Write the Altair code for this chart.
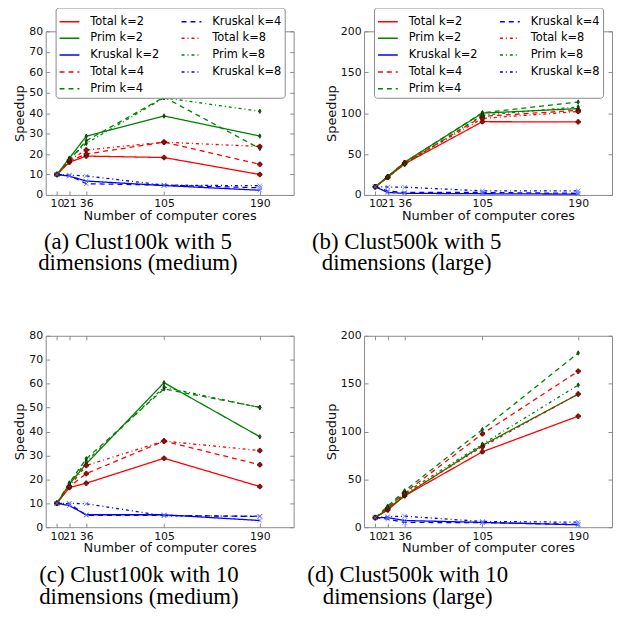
import altair as alt
import pandas as pd

cores = [10, 21, 36, 105, 190]
x_ticks = [10, 21, 36, 105, 190]

series = ["Total k=2", "Prim k=2", "Kruskal k=2",
          "Total k=4", "Prim k=4", "Kruskal k=4",
          "Total k=8", "Prim k=8", "Kruskal k=8"]

# (a) Clust100k, 5 dimensions
a_total_k2 = [10, 16.0, 19.0, 18.3, 10.0]
a_prim_k2 = [10, 18.0, 28.7, 38.6, 28.8]
a_kruskal_k2 = [10, 9.2, 6.8, 4.6, 2.3]
a_total_k4 = [10, 16.5, 20.0, 25.8, 15.0]
a_prim_k4 = [10, 17.0, 26.5, 47.8, 22.7]
a_kruskal_k4 = [10, 9.5, 5.5, 4.8, 3.5]
a_total_k8 = [10, 17.0, 22.0, 25.8, 23.7]
a_prim_k8 = [10, 17.5, 25.2, 47.5, 40.9]
a_kruskal_k8 = [10, 9.7, 9.3, 4.8, 4.5]

# (b) Clust500k, 5 dimensions
b_total_k2 = [10, 21.5, 38.0, 89.5, 89.3]
b_prim_k2 = [10, 22.5, 40.0, 100.0, 105.5]
b_kruskal_k2 = [10, 3.0, 2.0, 1.5, 1.0]
b_total_k4 = [10, 22.0, 38.5, 96.0, 103.5]
b_prim_k4 = [10, 22.5, 40.0, 100.5, 113.5]
b_kruskal_k4 = [10, 5.0, 3.0, 3.0, 2.0]
b_total_k8 = [10, 21.5, 39.0, 93.5, 102.0]
b_prim_k8 = [10, 22.0, 37.5, 97.5, 107.5]
b_kruskal_k8 = [10, 9.7, 9.5, 5.0, 5.0]

# (c) Clust100k, 10 dimensions
c_total_k2 = [10, 16.6, 18.4, 28.8, 17.0]
c_prim_k2 = [10, 18.0, 26.5, 60.4, 37.8]
c_kruskal_k2 = [10, 9.0, 5.2, 5.2, 2.8]
c_total_k4 = [10, 17.0, 22.4, 36.0, 26.1]
c_prim_k4 = [10, 18.5, 28.6, 57.8, 50.1]
c_kruskal_k4 = [10, 9.8, 5.0, 4.9, 4.5]
c_total_k8 = [10, 17.0, 25.8, 36.0, 32.0]
c_prim_k8 = [10, 18.2, 27.5, 58.6, 50.0]
c_kruskal_k8 = [10, 10.0, 9.8, 4.8, 4.6]

# (d) Clust500k, 10 dimensions
d_total_k2 = [10, 18.0, 32.8, 78.8, 116.0]
d_prim_k2 = [10, 19.0, 33.0, 85.5, 139.0]
d_kruskal_k2 = [10, 10.0, 7.0, 5.0, 2.5]
d_total_k4 = [10, 20.0, 36.0, 97.5, 163.0]
d_prim_k4 = [10, 22.0, 38.0, 102.0, 182.0]
d_kruskal_k4 = [10, 8.5, 5.0, 4.8, 3.0]
d_total_k8 = [10, 19.0, 34.0, 84.0, 139.2]
d_prim_k8 = [10, 20.5, 35.5, 86.8, 148.5]
d_kruskal_k8 = [10, 11.0, 11.5, 6.0, 5.2]

captions = {
    "a": ["(a) Clust100k with 5", "dimensions (medium)"],
    "b": ["(b) Clust500k with 5", "dimensions (large)"],
    "c": ["(c) Clust100k with 10", "dimensions (medium)"],
    "d": ["(d) Clust500k with 10", "dimensions (large)"],
}

FRAME = "#8a8a8a"
algos = ["Total", "Prim", "Kruskal"]
algo_color = {"Total": "#ff0000", "Prim": "#008000", "Kruskal": "#0000ff"}
k_dash = {"2": [1, 0], "4": [5, 4], "8": [3, 3, 1, 3]}
series_colors = [algo_color[s.split()[0]] for s in series]
series_dashes = [k_dash[s.split("=")[1]] for s in series]

shape_range = ["cross", "M0,-1L0.55,0L0,1L-0.55,0Z", "M-1,-1L1,1M1,-1L-1,1"]
fill_range = ["#a01010", "#0d6a0d", "transparent"]
stroke_range = ["#600000", "#003300", "#5a6cff"]


def panel(vals, ymax, ystep, caption, dx, height, show_legend, cap_offset):
    rows = []
    for name, v in zip(series, vals):
        for c, s in zip(cores, v):
            rows.append({"cores": c, "speedup": s, "series": name,
                         "algo": name.split()[0]})
    df = pd.DataFrame(rows)
    yvals = list(range(0, ymax + 1, ystep))
    xscale = alt.Scale(domain=[0, 220], nice=False, zero=False)
    yscale = alt.Scale(domain=[0, ymax], nice=False)
    if show_legend:
        leg = alt.Legend(title=None, orient="none", legendX=10, legendY=-24,
                         direction="vertical", columns=2, columnPadding=19,
                         rowPadding=-0.3, symbolType="stroke", symbolSize=400,
                         symbolStrokeWidth=1.5, labelFontSize=11.5,
                         labelFont="DejaVu Sans", labelColor="black",
                         labelOffset=10, padding=3, strokeColor=FRAME,
                         fillColor="white", cornerRadius=3, labelLimit=200)
    else:
        leg = None
    lines = alt.Chart(df).mark_line(strokeWidth=1.3).encode(
        x=alt.X("cores:Q", scale=xscale,
                axis=alt.Axis(values=x_ticks, title="Number of computer cores",
                              labelOverlap=False, tickSize=4, offset=-4,
                              labelPadding=3, titlePadding=1, labelFlush=False)),
        y=alt.Y("speedup:Q", scale=yscale,
                axis=alt.Axis(values=yvals, title="Speedup", tickSize=4,
                              offset=-4, labelPadding=3, titlePadding=2,
                              labelFlush=False)),
        color=alt.Color("series:N", sort=series,
                        scale=alt.Scale(domain=series, range=series_colors),
                        legend=leg),
        strokeDash=alt.StrokeDash("series:N", sort=series,
                                  scale=alt.Scale(domain=series,
                                                  range=series_dashes),
                                  legend=leg),
    )
    pts = alt.Chart(df).mark_point(filled=True, size=20, strokeWidth=0.8,
                                   opacity=1).encode(
        x=alt.X("cores:Q", scale=xscale,
                axis=alt.Axis(orient="top", values=x_ticks, labels=False,
                              title=None, tickSize=4, offset=-4)),
        y=alt.Y("speedup:Q", scale=yscale,
                axis=alt.Axis(orient="right", values=yvals, labels=False,
                              title=None, tickSize=4, offset=-4)),
        shape=alt.Shape("algo:N", scale=alt.Scale(domain=algos, range=shape_range),
                        legend=None),
        fill=alt.Fill("algo:N", scale=alt.Scale(domain=algos, range=fill_range),
                      legend=None),
        stroke=alt.Stroke("algo:N", scale=alt.Scale(domain=algos, range=stroke_range),
                          legend=None),
    )
    return alt.layer(lines, pts).resolve_scale(
        x="independent", y="independent"
    ).resolve_axis(
        x="independent", y="independent"
    ).properties(
        width=250, height=height,
        title=alt.TitleParams(text=caption, orient="bottom", anchor="middle",
                              font="Liberation Serif", fontSize=23,
                              fontWeight="normal", lineHeight=22,
                              offset=cap_offset, dx=dx, color="black"),
    )


pa = panel([a_total_k2, a_prim_k2, a_kruskal_k2, a_total_k4, a_prim_k4,
            a_kruskal_k4, a_total_k8, a_prim_k8, a_kruskal_k8],
           80, 10, captions["a"], -32, 165, True, 8)
pb = panel([b_total_k2, b_prim_k2, b_kruskal_k2, b_total_k4, b_prim_k4,
            b_kruskal_k4, b_total_k8, b_prim_k8, b_kruskal_k8],
           200, 50, captions["b"], -82, 165, True, 8)
pc = panel([c_total_k2, c_prim_k2, c_kruskal_k2, c_total_k4, c_prim_k4,
            c_kruskal_k4, c_total_k8, c_prim_k8, c_kruskal_k8],
           80, 10, captions["c"], -31, 193, False, 9)
pd_ = panel([d_total_k2, d_prim_k2, d_kruskal_k2, d_total_k4, d_prim_k4,
             d_kruskal_k4, d_total_k8, d_prim_k8, d_kruskal_k8],
            200, 50, captions["d"], -81, 193, False, 9)

chart = alt.concat(pa, pb, pc, pd_, columns=2,
                   spacing={"row": 142, "column": 71}, bounds="flush").resolve_scale(
    color="independent", strokeDash="independent"
).properties(
    padding={"left": 5, "top": -4, "right": 0, "bottom": 0}
).configure_view(
    stroke=FRAME, strokeWidth=1
).configure_axis(
    labelFont="DejaVu Sans", titleFont="DejaVu Sans", labelFontSize=11,
    titleFontSize=13, titleFontWeight="normal", labelColor="#111",
    titleColor="#111", tickColor=FRAME, domain=False, grid=False
)

chart.save("out.html", embed_options={"renderer": "svg", "actions": False})
